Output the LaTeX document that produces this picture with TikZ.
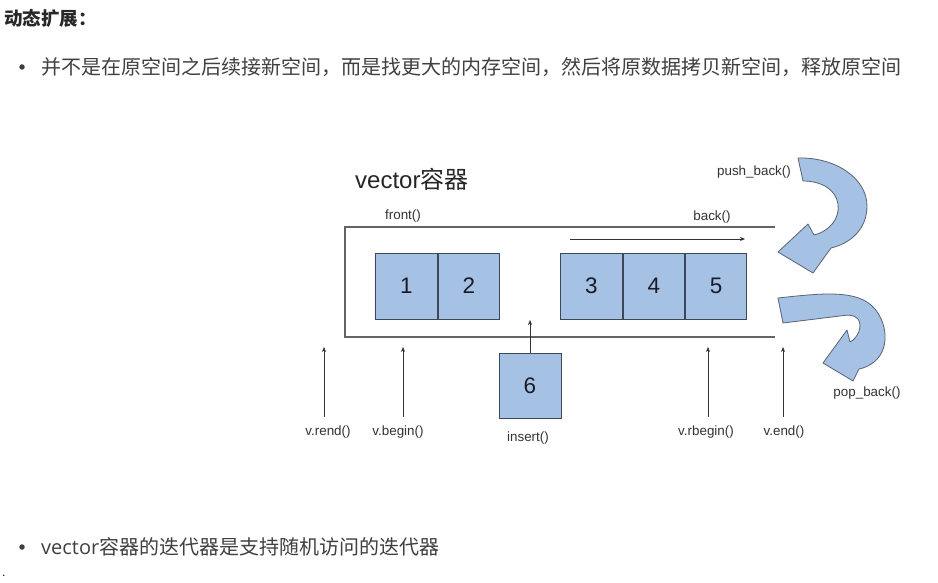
\documentclass[tikz,border=0pt]{standalone}
\usepackage{fontspec}
\setmainfont{Liberation Sans}
\newfontfamily\cjk{Noto Sans CJK SC}
\newfontfamily\osans{Open Sans}
\usetikzlibrary{arrows.meta}
\definecolor{boxblue}{RGB}{165,194,228}
\definecolor{boxedge}{RGB}{60,72,90}
\definecolor{linegray}{RGB}{100,100,100}
\definecolor{bodytext}{RGB}{64,64,64}
\definecolor{headtext}{RGB}{40,40,40}
\definecolor{digit}{RGB}{25,28,40}
\begin{document}
\begin{tikzpicture}[x=1pt,y=-1pt,
  cell/.style={draw=boxedge, fill=boxblue, line width=0.8pt, minimum width=61.5pt, minimum height=66pt, inner sep=0pt, font=\fontsize{22.5}{22}\selectfont, text=digit},
  lbl/.style={font=\fontsize{13.4}{14}\selectfont, text=black!80, inner sep=0pt},
  ptr/.style={-{Stealth[length=5pt,width=4pt]}, line width=0.6pt, draw=black!80},
  frame/.style={draw=linegray, line width=1.2pt},
  bendarrow/.style={draw=boxedge!85, fill=boxblue, line width=0.8pt, line join=round},
  bulletdot/.style={circle, fill=bodytext, inner sep=0pt, minimum size=5.5pt},
  bodyline/.style={anchor=west, inner sep=0pt, text=bodytext, font=\cjk\fontsize{20}{22}\selectfont}
]
\fill[white] (0,0) rectangle (938,583);
\useasboundingbox (0,0) rectangle (938,583);

% page text
\node[anchor=west, inner sep=0pt, text=headtext, font=\cjk\bfseries\fontsize{18.5}{20}\selectfont] (head) at (4,18) {动态扩展：};
\node[bulletdot] (b1) at (22,67) {};
\node[bodyline] (t1) at (41,67) {并不是在原空间之后续接新空间，而是找更大的内存空间，然后将原数据拷贝新空间，释放原空间};
\node[bulletdot] (b2) at (22,547) {};
\node[bodyline] (t2) at (41,547) {{\osans vector}容器的迭代器是支持随机访问的迭代器};
\node[anchor=west, inner sep=0pt, text=black, font=\fontsize{12}{12}\selectfont] (enddot) at (2,576) {.};

% diagram title and labels
\node[anchor=west, inner sep=0pt, font=\fontsize{24}{26}\selectfont, text=black!85] (title) at (355,179) {vector{\cjk 容器}};
\node[lbl] (front) at (403,216) {front()};
\node[lbl] (back) at (712,217) {back()};
\node[lbl] (push) at (754,172) {push\_back()};
\node[lbl] (pop) at (867,393) {pop\_back()};

% container frame
\draw[frame] (775,227) -- (345,227) -- (345,337) -- (775,337);

% direction arrow
\coordinate (dirs) at (570,239);
\coordinate (dire) at (745,239);
\draw[ptr] (dirs) -- (dire);

% cells
\node[cell] (c1) at (406.5,286) {1};
\node[cell, anchor=west] (c2) at (c1.east) {2};
\node[cell] (c3) at (591.5,286) {3};
\node[cell, anchor=west] (c4) at (c3.east) {4};
\node[cell, anchor=west] (c5) at (c4.east) {5};
\node[cell, minimum width=62pt, minimum height=65pt] (c6) at (530,385.5) {6};
\coordinate (instip) at (530,320);
\draw[ptr] (c6.north) -- (instip);
\node[lbl] (insert) at (528,438) {insert()};

% iterators
\node[lbl] (rend) at (328,432) {v.rend()};
\node[lbl] (begin) at (398,432) {v.begin()};
\node[lbl] (rbegin) at (706,432) {v.rbegin()};
\node[lbl] (vend) at (784,432) {v.end()};
\coordinate (rendtail) at (324,417);   \coordinate (rendtip) at (324,347);
\coordinate (begintail) at (403,417);  \coordinate (begintip) at (403,347);
\coordinate (rbegintail) at (708,417); \coordinate (rbegintip) at (708,347);
\coordinate (endtail) at (783,417);    \coordinate (endtip) at (783,347);
\draw[ptr] (rendtail) -- (rendtip);
\draw[ptr] (begintail) -- (begintip);
\draw[ptr] (rbegintail) -- (rbegintip);
\draw[ptr] (endtail) -- (endtip);

% push_back curved arrow
\draw[bendarrow] (798,158)
  .. controls (835,157) and (867,178) .. (867,206)
  .. controls (867,228) and (852,243) .. (831,248)
  -- (813,273) -- (778,252) -- (808,224) -- (814,235)
  .. controls (830,231) and (840,218) .. (838,204)
  .. controls (836,190) and (822,181) .. (803,181)
  -- cycle;

% pop_back curved arrow
\draw[bendarrow] (778,298)
  .. controls (815,294) and (848,290) .. (867,302)
  .. controls (887,315) and (892,348) .. (874,362)
  .. controls (869,366) and (864,368) .. (859,369)
  -- (853,381) -- (823,363) -- (847,330) -- (850,342)
  .. controls (858,338) and (863,326) .. (858,319)
  .. controls (854,314) and (846,315) .. (840,316)
  -- (783,323) -- cycle;
\end{tikzpicture}
\end{document}
